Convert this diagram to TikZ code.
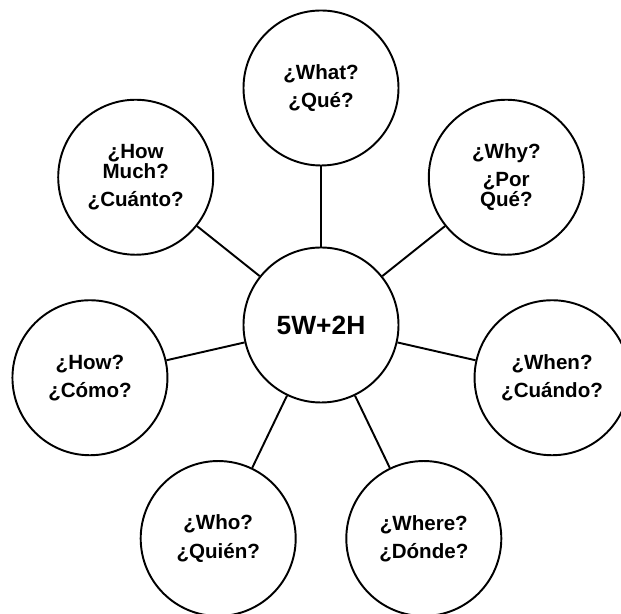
\documentclass[tikz,border=0pt]{standalone}
\usepackage{fontspec}
\setmainfont{Liberation Sans}
\usepackage{tikz}
\usepackage{xcolor}
\definecolor{paper}{HTML}{FFFFFF}
\definecolor{ink}{HTML}{000000}

\begin{document}
\begin{tikzpicture}[
    hub node/.style={circle,draw=ink,line width=1.1pt,inner sep=0pt,minimum size=3.1cm,fill=paper,text=ink,font=\bfseries\fontsize{15}{15}\selectfont},
    question node/.style={circle,draw=ink,line width=1.1pt,inner sep=0pt,minimum size=3.1cm,fill=paper,text=ink,align=center,font=\bfseries\fontsize{11.7}{11.5}\selectfont},
    spoke/.style={draw=ink,line width=1.1pt}
  ]
  \useasboundingbox (-6.42,-5.78) rectangle (6.0,6.5);
  \node[hub node] (hub) at (0,0) {5W+2H};
  % the seven questions, equally spaced round the hub
  \node[question node] (what) at (90:4.74) {¿What?\\[4.5pt]¿Qué?};
  \node[question node] (why) at (38.57:4.74) {¿Why?\\[4.5pt]¿Por\\Qué?};
  \node[question node] (when) at (-12.86:4.74) {¿When?\\[4.5pt]¿Cuándo?};
  \node[question node] (where) at (-64.29:4.74) {¿Where?\\[4.5pt]¿Dónde?};
  \node[question node] (who) at (-115.71:4.74) {¿Who?\\[4.5pt]¿Quién?};
  \node[question node] (how) at (-167.14:4.74) {¿How?\\[4.5pt]¿Cómo?};
  \node[question node] (howmuch) at (141.43:4.74) {¿How\\Much?\\[4.5pt]¿Cuánto?};
  \foreach \q in {what,why,when,where,who,how,howmuch}
    \draw[spoke] (hub) -- (\q);
\end{tikzpicture}
\end{document}
